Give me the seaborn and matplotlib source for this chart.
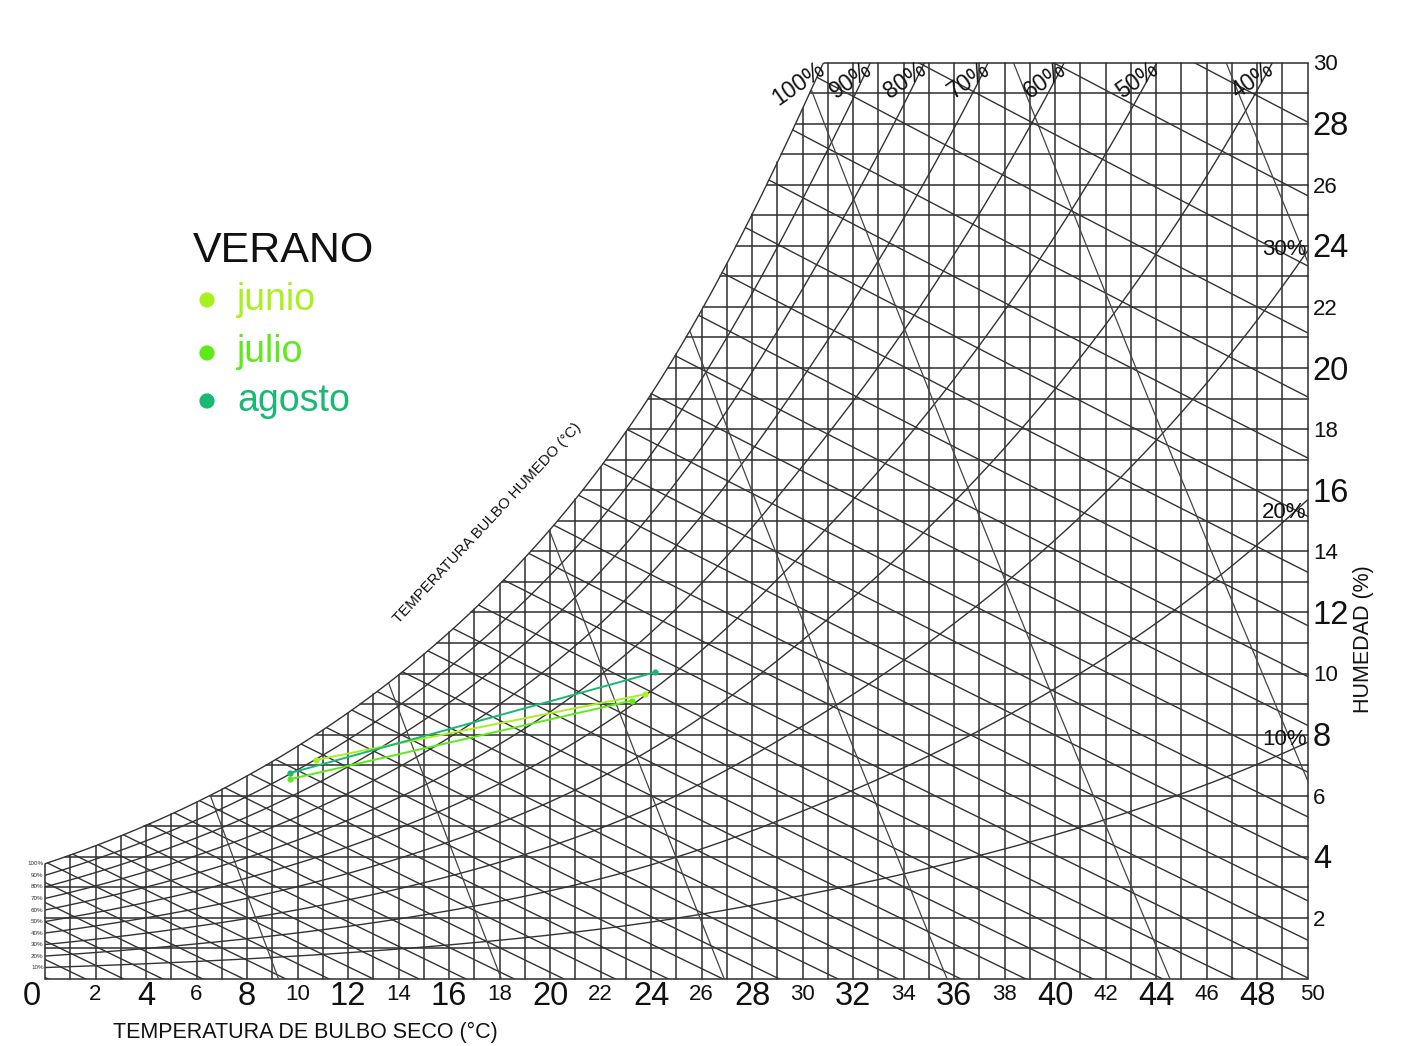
import numpy as np
import pandas as pd
import matplotlib
matplotlib.use("Agg")
import matplotlib.pyplot as plt
import seaborn as sns

# ---------------- data ----------------
months = ["junio", "julio", "agosto"]
month_colors = ["#a8f020", "#5eea1a", "#19b873"]
t_low = [10.73, 9.70, 9.70]        # dry bulb (°C) at low end of each month line
w_low = [7.17, 6.54, 6.74]         # humidity ratio (g/kg)
t_high = [23.76, 23.23, 24.16]     # dry bulb (°C) at high end
w_high = [9.32, 9.11, 10.04]       # humidity ratio (g/kg)

x_tick_values = list(range(0, 51, 2))
x_big = [0, 4, 8, 12, 16, 20, 24, 28, 32, 36, 40, 44, 48]
y_tick_values = list(range(2, 31, 2))
y_big = [4, 8, 12, 16, 20, 24, 28]

rh_levels = [10, 20, 30, 40, 50, 60, 70, 80, 90, 100]      # %
twb_levels = list(range(-6, 36))                              # °C
volume_levels = [0.800, 0.825, 0.850, 0.875, 0.900, 0.925, 0.950]  # m3/kg
pressure_kpa = 101.325
t_range = (0, 50)
w_range = (0, 30)

# drawing of the printed chart: its saturation curve bulges slightly
chart_bump_peak, chart_bump_center = 0.05, 31.5
chart_bump_left, chart_bump_right = 7.0, 14.0
wetbulb_factor = 1.017
side_label_offset = {30: -0.3, 20: -0.75, 10: -0.25}

# ---------------- psychrometric helpers ----------------
def pws(t):
    return 0.61094 * np.exp(17.625 * t / (t + 243.04))

def chart_factor(t):
    t = np.asarray(t, dtype=float)
    width = np.where(t < chart_bump_center, chart_bump_left, chart_bump_right)
    return 1 + chart_bump_peak * np.exp(-((t - chart_bump_center) / width) ** 2)

def w_rh(t, rh):
    pw = rh / 100.0 * pws(t) * chart_factor(t)
    return 621.945 * pw / (pressure_kpa - pw)

def w_wetbulb(t, twb):
    pw = pws(twb) * wetbulb_factor
    ws = 0.621945 * pw / (pressure_kpa - pw)
    w = ((2501 - 2.326 * twb) * ws - 1.006 * (t - twb)) / (2501 + 1.86 * t - 4.186 * twb)
    return 1000.0 * w

def t_volume(w, v):
    return v * pressure_kpa / (0.287042 * (1 + 1.6078 * w / 1000.0)) - 273.15

ts_dense = np.linspace(-10, 60, 14001)
ws_dense = w_rh(ts_dense, 100)

def t_sat(w):
    return np.interp(w, ws_dense, ts_dense)

def t_rh_at(w, rh):
    return np.interp(w, w_rh(ts_dense, rh), ts_dense)

# ---------------- figure ----------------
sns.set_theme(style="white")
plt.rcParams["font.family"] = ["Liberation Sans", "DejaVu Sans"]

W_PX, H_PX = 1403, 1046
fig = plt.figure(figsize=(W_PX / 100, H_PX / 100), dpi=100)
x0_px, x1_px, y0_px, y1_px = 45, 1307.7, 979, 62.5
ax = fig.add_axes([x0_px / W_PX, 1 - y0_px / H_PX,
                   (x1_px - x0_px) / W_PX, (y0_px - y1_px) / H_PX])
ax.set_xlim(*t_range)
ax.set_ylim(*w_range)
ax.set_axis_off()

grid_c = "#2e2e2e"
line_c = "#333333"

# grid: vertical every 1 °C, horizontal every 1 g/kg, only under saturation curve
for t in range(t_range[0], t_range[1] + 1):
    top = min(float(w_rh(t, 100)), w_range[1])
    ax.plot([t, t], [0, top], color=grid_c, lw=1.1, clip_on=False, zorder=1)
for w in range(w_range[0], w_range[1] + 1):
    start = max(float(t_sat(w)), 0)
    ax.plot([start, 50], [w, w], color=grid_c, lw=1.1, clip_on=False, zorder=1)

# relative humidity curves
tt = np.linspace(0, 50, 800)
for rh in rh_levels:
    ax.plot(tt, w_rh(tt, rh), color=line_c, lw=1.0, zorder=2)

# wet bulb lines (start where they meet the saturation curve)
for twb in twb_levels:
    tl = np.linspace(twb - 6, 50, 3000)
    wl = w_wetbulb(tl, twb)
    mask = wl <= w_rh(tl, 100)
    ax.plot(tl[mask], wl[mask], color=line_c, lw=1.0, zorder=2)

# specific volume lines
wv = np.linspace(0, 36, 1500)
for v in volume_levels:
    tv = t_volume(wv, v)
    mask = wv <= w_rh(tv, 100)
    ax.plot(tv[mask], wv[mask], color="#444444", lw=0.9, zorder=2)

# month lines (seaborn)
rows = []
for m, a, b, c, d in zip(months, t_low, w_low, t_high, w_high):
    rows.append({"mes": m, "T": a, "W": b})
    rows.append({"mes": m, "T": c, "W": d})
df = pd.DataFrame(rows)
sns.lineplot(data=df, x="T", y="W", hue="mes", palette=dict(zip(months, month_colors)),
             hue_order=months, units="mes", estimator=None, sort=False,
             marker="o", markersize=4.5, markeredgewidth=0, lw=1.4,
             legend=False, ax=ax, zorder=5)

# ---------------- texts ----------------
def fx(px):
    return px / W_PX

def fy(py):
    return 1 - py / H_PX

def dx(px):
    return (px - x0_px) / ((x1_px - x0_px) / 50)

def dy(py):
    return (y0_px - py) / ((y0_px - y1_px) / 30)

txt_c = "#111111"
for v in x_tick_values:
    big = v in x_big
    xpos = v
    if v == 0:
        xpos = -0.51
    if v == 50:
        xpos = 50.2
    ax.text(xpos, -0.851 if big else -0.688, str(v), ha="center", va="baseline",
            fontsize=23.5 if big else 16, color=txt_c)
for v in y_tick_values:
    big = v in y_big
    ax.text(50.2, v - (0.38 if big else 0.26), str(v), ha="left", va="baseline",
            fontsize=23.5 if big else 16, color=txt_c)

fig.text(fx(113), fy(1038), "TEMPERATURA DE BULBO SECO (°C)", ha="left",
         va="baseline", fontsize=15.5, color=txt_c)
fig.text(fx(1364), fy(639), "HUMEDAD (%)", ha="center", va="center",
         rotation=90, fontsize=15.5, color=txt_c)
ax.text(17.5, 14.93, "TEMPERATURA BULBO HUMEDO (°C)", ha="center", va="center",
        rotation=47, fontsize=10.8, color=txt_c)

# RH labels
for rh in rh_levels:
    t_end = float(t_rh_at(w_range[1], rh))
    if t_end <= 50:
        ax.text(t_end - 0.3, 30.15, f"{rh}%", ha="right", va="top", rotation=35,
                rotation_mode="anchor", fontsize=16.5, color=txt_c)
    else:
        ax.text(49.95, float(w_rh(50, rh)) + side_label_offset.get(rh, -0.3), f"{rh}%",
                ha="right", va="bottom", fontsize=16, color=txt_c)
    ax.text(-0.05, float(w_rh(0, rh)), f"{rh}%", ha="right", va="center",
            fontsize=4.5, color="#333333")

# legend block
fig.text(fx(283), fy(261.7), "VERANO", ha="center", va="baseline",
         fontsize=31, color=txt_c)
leg_baselines = [310, 361.5, 411]
leg_dots = [300, 353, 401]
for m, c, bl, dyp in zip(months, month_colors, leg_baselines, leg_dots):
    fig.text(fx(237), fy(bl), m, ha="left", va="baseline", fontsize=27, color=c)
    ax.scatter([dx(207)], [dy(dyp)], s=120, color=c, edgecolor="none",
               clip_on=False, zorder=6)

fig.savefig("out.png", dpi=100, facecolor="white")
